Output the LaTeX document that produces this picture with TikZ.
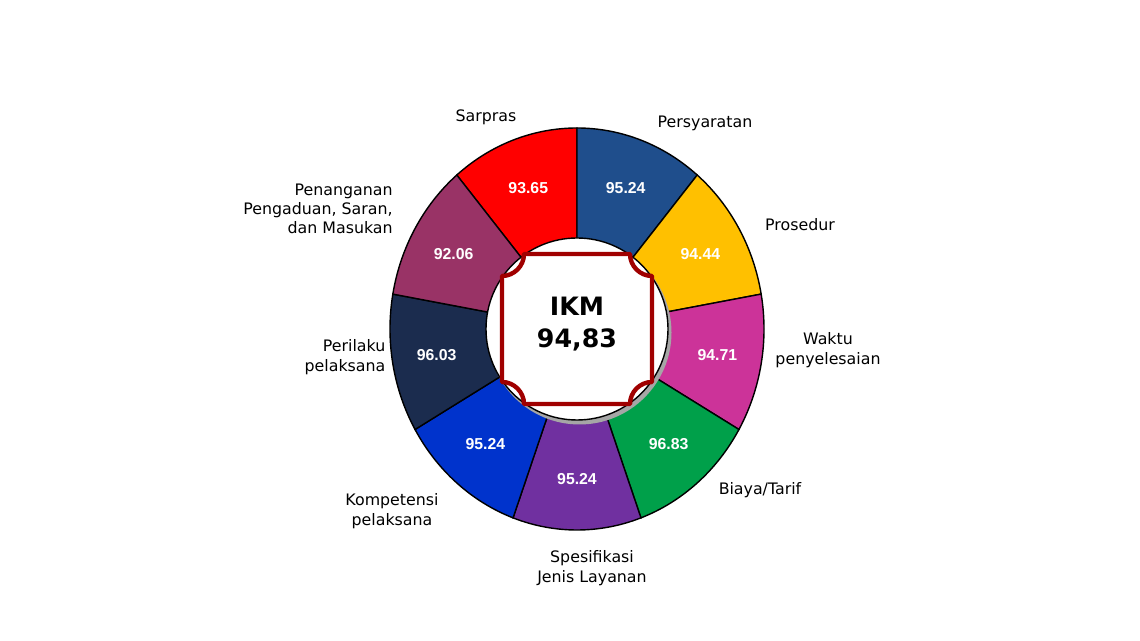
\documentclass[tikz,border=0pt]{standalone}
\usepackage{fontspec}
\setmainfont{DejaVu Sans}
\newfontfamily\valfont{Liberation Sans}
\definecolor{cSarpras}{HTML}{FF0000}
\definecolor{cSyarat}{HTML}{1F4E8C}
\definecolor{cProsedur}{HTML}{FFC000}
\definecolor{cWaktu}{HTML}{CC3399}
\definecolor{cBiaya}{HTML}{00A04A}
\definecolor{cSpek}{HTML}{7030A0}
\definecolor{cKomp}{HTML}{0033CC}
\definecolor{cPerilaku}{HTML}{1B2C4E}
\definecolor{cAduan}{HTML}{993366}
\definecolor{frameRed}{HTML}{A00000}
\tikzset{
  val/.style={text=white, font=\valfont\bfseries\small},
  lbl/.style={font=\small, align=center, text=black},
  sector/.style={draw=black, line width=0.8pt}
}
\begin{document}
\begin{tikzpicture}
  \useasboundingbox (0,0) rectangle (22.8,12.82);
  \begin{scope}[shift={(11.54,6.24)}]
    % ring sectors
    \foreach \a/\c/\v [count=\i] in {90/cSarpras/93.65, 50/cSyarat/95.24, 10/cProsedur/94.44,
        -30/cWaktu/94.71, -70/cBiaya/96.83, -110/cSpek/95.24, -150/cKomp/95.24,
        -190/cPerilaku/96.03, -230/cAduan/92.06} {
      \pgfmathsetmacro{\b}{\a+40}
      \pgfmathsetmacro{\m}{\a+20}
      \fill[\c, sector] (0,0) -- (\a:3.74 and 4.02)
        arc[start angle=\a, end angle=\b, x radius=3.74, y radius=4.02] -- cycle;
      \node[val] (v\i) at (\m:2.85 and 3.0) {\v};
    }
    % centre
    \fill[black!35] (0.05,-0.07) circle (1.84);
    \fill[white, draw=black, line width=0.8pt] (0,0) circle (1.82);
    \draw[frameRed, line width=2.5pt, line join=round]
      (-1.06,1.5) -- (1.06,1.5) .. controls (1.06,1.26) and (1.26,1.06) .. (1.5,1.06)
      -- (1.5,-1.06) .. controls (1.26,-1.06) and (1.06,-1.26) .. (1.06,-1.5)
      -- (-1.06,-1.5) .. controls (-1.06,-1.26) and (-1.26,-1.06) .. (-1.5,-1.06)
      -- (-1.5,1.06) .. controls (-1.26,1.06) and (-1.06,1.26) .. cycle;
    \node[font=\Large\bfseries, align=center] (ikm) at (0,0.1) {IKM\\94,83};
  \end{scope}
  % category labels
  \node[lbl] (sarpras) at (9.72,10.48) {Sarpras};
  \node[lbl] (syarat) at (14.1,10.36) {Persyaratan};
  \node[lbl] (prosedur) at (16.0,8.32) {Prosedur};
  \node[lbl] (waktu) at (16.56,5.82) {Waktu\\penyelesaian};
  \node[lbl] (biaya) at (15.2,3.02) {Biaya/Tarif};
  \node[lbl] (spek) at (11.84,1.46) {Spesifikasi\\Jenis Layanan};
  \node[lbl] (komp) at (7.84,2.6) {Kompetensi\\pelaksana};
  \node[lbl, align=right] (perilaku) at (6.9,5.68) {Perilaku\\pelaksana};
  \node[lbl, align=right] (aduan) at (6.36,8.64) {Penanganan\\Pengaduan, Saran,\\dan Masukan};
\end{tikzpicture}
\end{document}
